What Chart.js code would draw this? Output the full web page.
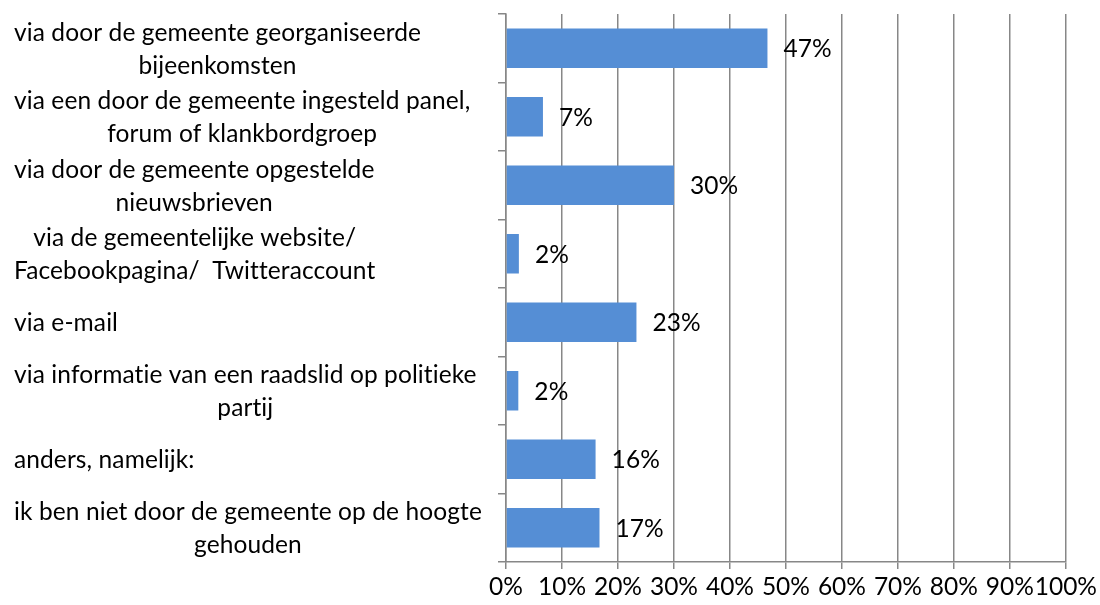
<!DOCTYPE html>
<html>
<head>
<meta charset="utf-8">
<script src="https://cdn.jsdelivr.net/npm/chart.js@4.4.1/dist/chart.umd.min.js"></script>
<style>
  html, body { margin: 0; padding: 0; background: #fff; }
</style>
</head>
<body>
<canvas id="chart" width="1100" height="605"></canvas>
<script>
// categorieën (regels zoals in de grafiek afgebroken)
const categories = [
  ["via door de gemeente georganiseerde", "bijeenkomsten"],
  ["via een door de gemeente ingesteld panel,", "forum of klankbordgroep"],
  ["via door de gemeente opgestelde", "nieuwsbrieven"],
  ["via de gemeentelijke website/", "Facebookpagina/  Twitteraccount"],
  ["via e-mail"],
  ["via informatie van een raadslid op politieke", "partij"],
  ["anders, namelijk:"],
  ["ik ben niet door de gemeente op de hoogte", "gehouden"]
];
const values = [46.7, 6.6, 30.0, 2.3, 23.3, 2.2, 16.0, 16.7];
const xTicks = [0, 10, 20, 30, 40, 50, 60, 70, 80, 90, 100];

const FONT_FAMILY = "Lato, 'Open Sans', sans-serif";
const FONT_SIZE = 24.5;
const LINE_H = 33;
const GRID = "#878787";

// labels links + percentages achter de balken
const labelPlugin = {
  id: "labels",
  afterDraw(chart) {
    const ctx = chart.ctx;
    const yScale = chart.scales.y;
    ctx.save();
    ctx.font = FONT_SIZE + "px " + FONT_FAMILY;
    ctx.letterSpacing = "0.1px"; // geen ti-ligaturen
    ctx.fillStyle = "#000";
    ctx.textBaseline = "middle";
    ctx.textAlign = "center";
    categories.forEach((lines, i) => {
      const cy = yScale.getPixelForTick(i) + 1;
      const w = Math.max(...lines.map(l => ctx.measureText(l).width));
      const cx = 14 + w / 2;
      lines.forEach((l, j) => {
        ctx.fillText(l, cx, cy + (j - (lines.length - 1) / 2) * LINE_H);
      });
    });
    ctx.textAlign = "left";
    chart.getDatasetMeta(0).data.forEach((bar, i) => {
      ctx.fillText(Math.round(values[i]) + "%", bar.x + 16, bar.y + 1);
    });
    ctx.restore();
  }
};

new Chart(document.getElementById("chart"), {
  type: "bar",
  data: {
    labels: categories.map(c => c.join(" ")),
    datasets: [{
      data: values,
      backgroundColor: "#558ed5",
      borderWidth: 0,
      barPercentage: 0.575,
      categoryPercentage: 1
    }]
  },
  options: {
    indexAxis: "y",
    responsive: false,
    animation: false,
    devicePixelRatio: 1,
    layout: { padding: { top: 14, right: 32, left: 0, bottom: 0 } },
    plugins: { legend: { display: false }, tooltip: { enabled: false } },
    scales: {
      x: {
        min: 0,
        max: 100,
        afterBuildTicks: s => { s.ticks = xTicks.map(v => ({ value: v })); },
        ticks: {
          callback: v => v + "%",
          color: "#000",
          font: { family: FONT_FAMILY, size: FONT_SIZE },
          padding: 3,
          maxRotation: 0,
          autoSkip: false
        },
        grid: { color: GRID, lineWidth: 1.5, tickLength: 7 },
        border: { color: GRID, width: 1.5 },
        afterFit: s => { s.height = 43; }
      },
      y: {
        ticks: { display: false },
        grid: { drawOnChartArea: false, tickLength: 8, color: GRID, lineWidth: 1.5, offset: true },
        border: { color: GRID, width: 1.5 },
        afterFit: s => { s.width = 506; }
      }
    }
  },
  plugins: [labelPlugin]
});
</script>
</body>
</html>
